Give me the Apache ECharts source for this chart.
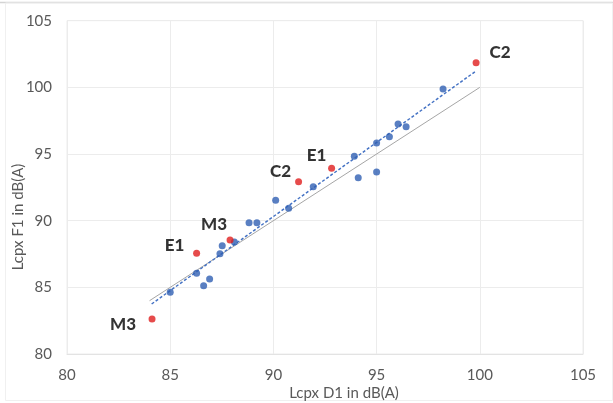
<!DOCTYPE html>
<html><head><meta charset="utf-8">
<script src="https://cdn.jsdelivr.net/npm/echarts@6/dist/echarts.min.js"></script>
<style>html,body{margin:0;padding:0;background:#fff}#c{width:613px;height:403px}</style>
</head><body><div id="c"></div>
<script>
// Blue measurement points [Lcpx D1, Lcpx F1]
const blueX = [85.0, 86.28, 86.62, 86.91, 87.41, 87.52, 88.11, 88.82, 89.2, 90.11, 90.74, 91.93, 93.92, 94.11, 95.0, 95.0, 95.62, 96.04, 96.43, 98.22];
const blueY = [84.63, 86.05, 85.12, 85.62, 87.52, 88.12, 88.4, 89.85, 89.85, 91.53, 90.93, 92.55, 94.83, 93.22, 95.83, 93.65, 96.3, 97.25, 97.05, 99.88];
// Red labelled points
const redNames = ['M3', 'E1', 'M3', 'C2', 'E1', 'C2'];
const redX = [84.12, 86.28, 87.9, 91.22, 92.82, 99.82];
const redY = [82.62, 87.55, 88.55, 92.92, 93.93, 101.85];
// Trend line (dashed blue) endpoints
const trendX = [84.1, 99.82];
const trendY = [83.75, 101.23];
// Reference line (grey)
const refX = [84.0, 100.0];
const refY = [84.0, 100.0];
// Axis ticks
const xTicks = [80, 85, 90, 95, 100, 105];
const yTicks = [80, 85, 90, 95, 100, 105];

const labelOffsets = [[-29, 5], [-22, -8], [-16, -15], [-18, -10], [-15, -13], [24, -10]];
const FONT = 'Lato';

const chart = echarts.init(document.getElementById('c'), null, {renderer: 'canvas'});
chart.setOption({
  animation: false,
  backgroundColor: '#fff',
  grid: {left: 67, right: 30, top: 20.7, bottom: 49},
  xAxis: {
    type: 'value', min: xTicks[0], max: xTicks[xTicks.length - 1], interval: 5,
    axisLine: {show: true, lineStyle: {color: '#e3e3e3'}},
    axisTick: {show: false},
    axisLabel: {color: '#595959', fontSize: 15, fontFamily: FONT, margin: 14},
    splitLine: {show: true, lineStyle: {color: '#ececec'}}
  },
  yAxis: {
    type: 'value', min: yTicks[0], max: yTicks[yTicks.length - 1], interval: 5,
    axisLine: {show: false},
    axisTick: {show: false},
    axisLabel: {color: '#595959', fontSize: 15, fontFamily: FONT, margin: 15},
    splitLine: {show: true, lineStyle: {color: '#ececec'}}
  },
  graphic: [
    {type: 'line', shape: {x1: 0, y1: 2.5, x2: 613, y2: 2.5}, style: {stroke: '#d4d4d4', lineWidth: 1.5}, silent: true},
    {type: 'rect', shape: {x: 5.5, y: 3, width: 607, height: 397.5}, style: {fill: 'none', stroke: '#f0f0f0', lineWidth: 1}, silent: true},
    {type: 'rect', shape: {x: 67, y: 20.7, width: 516, height: 333.3}, style: {fill: 'none', stroke: '#ececec', lineWidth: 1}, silent: true, z: -1},
    {type: 'text', x: 344, y: 393, style: {text: 'Lcpx D1 in dB(A)', fill: '#595959', font: '15px ' + FONT, align: 'center', verticalAlign: 'middle'}},
    {type: 'text', x: 18, y: 217, rotation: Math.PI / 2, style: {text: 'Lcpx F1 in dB(A)', fill: '#595959', font: '15px ' + FONT, align: 'center', verticalAlign: 'middle'}}
  ],
  series: [
    {
      type: 'line', data: refX.map((x, i) => [x, refY[i]]), symbol: 'none',
      lineStyle: {color: '#a6a6a6', width: 1}, z: 1
    },
    {
      type: 'line', data: trendX.map((x, i) => [x, trendY[i]]), symbol: 'none',
      lineStyle: {color: '#4472c4', width: 1.5, type: [3, 2]}, z: 2
    },
    {
      type: 'scatter', data: blueX.map((x, i) => [x, blueY[i]]), symbolSize: 7,
      itemStyle: {color: '#2f5fb3'}, z: 3
    },
    {
      type: 'scatter', symbolSize: 7, itemStyle: {color: '#e01e1e'}, z: 4,
      data: redX.map((x, i) => ({
        value: [x, redY[i]], name: redNames[i],
        label: {show: true, formatter: redNames[i], position: 'inside', offset: labelOffsets[i],
          color: '#000', fontSize: 17, fontWeight: 900, fontFamily: FONT}
      }))
    }
  ]
});
</script></body></html>
